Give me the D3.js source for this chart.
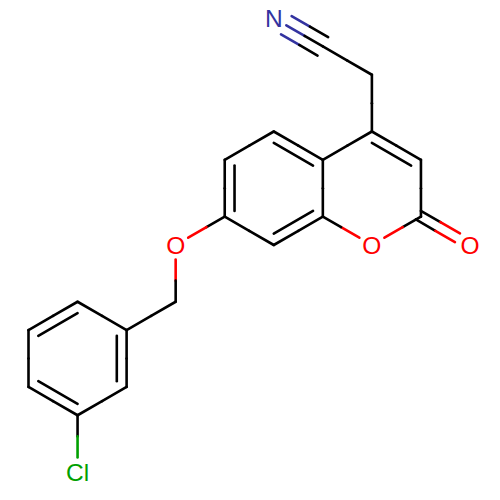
<!DOCTYPE html>
<html>
<head>
<meta charset="utf-8">
<script src="https://cdn.jsdelivr.net/npm/d3@7/dist/d3.min.js"></script>
<style>html,body{margin:0;padding:0;background:#fff;overflow:hidden}svg{display:block}</style>
</head>
<body>
<script>
// Atoms on the drawing's hexagonal grid (half ring widths, quarter ring heights)
const atomElements = ["N","C","C","C","C","C","O","O","C","C","C","C","C","C","O","C","C","C","C","C","C","C","Cl"];
const atomGridX    = [5,6,7,7,8,8,7,9,6,6,5,4,4,5,3,3,2,1,0,0,1,2,1];
const atomGridY    = [0,1,2,4,5,7,8,8,7,5,4,5,7,8,8,10,11,10,11,13,14,13,16];
// Bonds: atom index pairs, bond order, ring that a double bond's inner line leans to
const bondFrom  = [0,1,2,3,4,5,5,6,8,9,9,10,11,12,13,12,14,15,16,17,18,19,20,21,20];
const bondTo    = [1,2,3,4,5,6,7,8,9,3,10,11,12,13,8,14,15,16,17,18,19,20,21,16,22];
const bondOrder = [3,1,1,2,1,1,2,1,1,1,2,1,2,1,2,1,1,1,1,2,1,2,1,2,1];
const bondRing  = [-1,-1,-1,0,-1,-1,-1,-1,-1,-1,1,-1,1,-1,1,-1,-1,-1,-1,2,-1,2,-1,2,-1];
const ringGridX = [7,5,1];
const ringGridY = [6,6,12];
const elementColors = {C:"#000000",N:"#3333a0",O:"#ff0000",Cl:"#00a000"};

const x = d3.scaleLinear().domain([0,9]).range([28.5,470]);
const y = d3.scaleLinear().domain([0,16]).range([18,472]);

const svg = d3.select("body").append("svg").attr("width",500).attr("height",500);

const atoms = atomElements.map((el,i)=>({el,x:x(atomGridX[i]),y:y(atomGridY[i])}));
const rings = ringGridX.map((v,i)=>({x:x(v),y:y(ringGridY[i])}));
const labelClear = 14.5, innerLean = 0.2, triple = 10.6, dbl = 5, dblBack = 3;

const segments = [];
function split(ax,ay,bx,by,a,b,back){
  // a and b are atoms; the colour changes halfway along the clipped line
  const len = Math.hypot(b.x-a.x,b.y-a.y);
  const t0 = a.el==="C"?-(back||0)/len:labelClear/len, t1 = b.el==="C"?1:1-labelClear/len;
  const P = t=>[ax+(bx-ax)*t, ay+(by-ay)*t];
  const m = (t0+t1)/2;
  segments.push({p:P(t0),q:P(m),c:elementColors[a.el]});
  segments.push({p:P(m),q:P(t1),c:elementColors[b.el]});
}
bondFrom.forEach((f,i)=>{
  const a=atoms[f], b=atoms[bondTo[i]], o=bondOrder[i], r=bondRing[i];
  const len=Math.hypot(b.x-a.x,b.y-a.y), nx=-(b.y-a.y)/len, ny=(b.x-a.x)/len;
  if(o===3){
    [-triple,0,triple].forEach(d=>split(a.x+nx*d,a.y+ny*d,b.x+nx*d,b.y+ny*d,a,b));
  } else if(o===2 && r<0){
    [-dbl,dbl].forEach(d=>split(a.x+nx*d,a.y+ny*d,b.x+nx*d,b.y+ny*d,a,b,dblBack));
  } else {
    split(a.x,a.y,b.x,b.y,a,b);
    if(o===2){
      const c=rings[r];
      segments.push({
        p:[a.x+(c.x-a.x)*innerLean,a.y+(c.y-a.y)*innerLean],
        q:[b.x+(c.x-b.x)*innerLean,b.y+(c.y-b.y)*innerLean],
        c:"#000000"});
    }
  }
});

svg.append("g").selectAll("line").data(segments).join("line")
  .attr("x1",d=>d.p[0]).attr("y1",d=>d.p[1])
  .attr("x2",d=>d.q[0]).attr("y2",d=>d.q[1])
  .attr("stroke",d=>d.c).attr("stroke-width",2.6).attr("stroke-linecap","round");

svg.append("g").selectAll("text").data(atoms.filter(a=>a.el!=="C")).join("text")
  .attr("x",d=>d.x).attr("y",d=>d.y+8.9)
  .attr("text-anchor","middle")
  .attr("font-family","Liberation Sans").attr("font-size",24.5)
  .attr("fill",d=>elementColors[d.el]).text(d=>d.el);
</script>
</body>
</html>
